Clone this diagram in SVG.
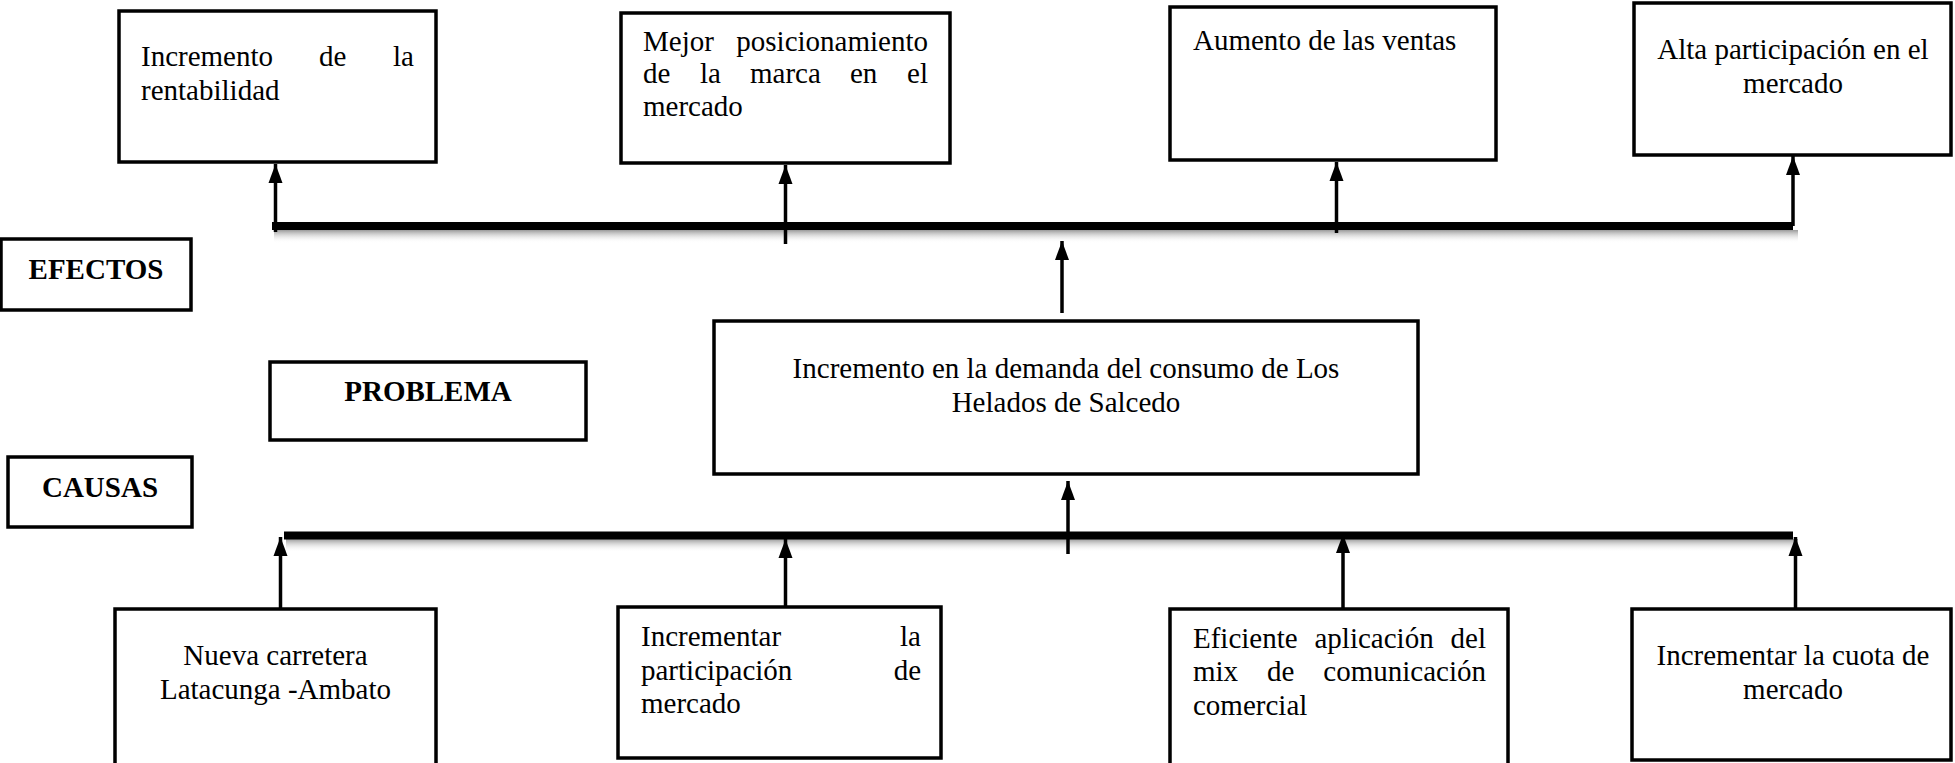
<svg xmlns="http://www.w3.org/2000/svg" width="1955" height="763" viewBox="0 0 1955 763">
<style>
.box{fill:#fff;stroke:#000;stroke-width:3.5}
.t{font-family:"Liberation Serif","Times New Roman",serif;font-size:29px;fill:#000}
.b{font-weight:bold}
.c{text-anchor:middle}
.e{text-anchor:end}
.bar{stroke:#000;stroke-width:8;fill:none}
.sh{fill:url(#shg)}
.ln{stroke:#000;stroke-width:3.5;fill:none;marker-end:url(#up)}
</style>
<defs>
<marker id="up" markerUnits="userSpaceOnUse" markerWidth="16" markerHeight="20" refX="8" refY="0" viewBox="0 0 16 20" orient="0">
<path d="M8,0 L15,19 L1,19 Z" fill="#000"/>
</marker>
<linearGradient id="shg" x1="0" y1="0" x2="0" y2="1">
<stop offset="0" stop-color="#9a9a9a"/>
<stop offset="1" stop-color="#ffffff" stop-opacity="0"/>
</linearGradient>
</defs>

<g id="connectors">
<rect class="sh" x="274" y="230" width="1524" height="13"/>
<line class="bar" x1="272" y1="226" x2="1793" y2="226"/>
<rect class="sh" x="286" y="539" width="1512" height="13"/>
<line class="bar" x1="284" y1="535.5" x2="1793" y2="535.5"/>
<line class="ln" x1="275.5" y1="232" x2="275.5" y2="164"/>
<line class="ln" x1="785.5" y1="244" x2="785.5" y2="165"/>
<line class="ln" x1="1336.5" y1="233" x2="1336.5" y2="162"/>
<line class="ln" x1="1793" y1="226" x2="1793" y2="156"/>
<line class="ln" x1="1062" y1="313" x2="1062" y2="241"/>
<line class="ln" x1="1068" y1="554" x2="1068" y2="481"/>
<line class="ln" x1="280.5" y1="608" x2="280.5" y2="537"/>
<line class="ln" x1="785.5" y1="612" x2="785.5" y2="539"/>
<line class="ln" x1="1343" y1="608" x2="1343" y2="534"/>
<line class="ln" x1="1795.5" y1="608" x2="1795.5" y2="537"/>
</g>

<g id="e1"><rect class="box" x="119" y="11" width="317" height="151"/>
<text class="t" x="141" y="66">Incremento</text>
<text class="t" x="319" y="66">de</text>
<text class="t e" x="414" y="66">la</text>
<text class="t" x="141" y="100">rentabilidad</text></g>

<g id="e2"><rect class="box" x="621" y="13" width="329" height="150"/>
<text class="t" x="643" y="51">Mejor</text>
<text class="t e" x="928" y="51">posicionamiento</text>
<text class="t" x="643" y="83">de</text>
<text class="t" x="700" y="83">la</text>
<text class="t" x="750" y="83">marca</text>
<text class="t" x="850" y="83">en</text>
<text class="t e" x="928" y="83">el</text>
<text class="t" x="643" y="116">mercado</text></g>

<g id="e3"><rect class="box" x="1170" y="7" width="326" height="153"/>
<text class="t" x="1193" y="50">Aumento de las ventas</text></g>

<g id="e4"><rect class="box" x="1634" y="3" width="317" height="152"/>
<text class="t c" x="1793" y="59">Alta participación en el</text>
<text class="t c" x="1793" y="93">mercado</text></g>

<g id="efectos"><rect class="box" x="1" y="239" width="190" height="71"/>
<text class="t b c" x="96" y="279">EFECTOS</text></g>

<g id="problema-label"><rect class="box" x="270" y="362" width="316" height="78"/>
<text class="t b c" x="428" y="401">PROBLEMA</text></g>

<g id="causas"><rect class="box" x="8" y="457" width="184" height="70"/>
<text class="t b c" x="100" y="497">CAUSAS</text></g>

<g id="problema"><rect class="box" x="714" y="321" width="704" height="153"/>
<text class="t c" x="1066" y="378">Incremento en la demanda del consumo de Los</text>
<text class="t c" x="1066" y="412">Helados de Salcedo</text></g>

<g id="c1"><rect class="box" x="115" y="609" width="321" height="160"/>
<text class="t c" x="275.5" y="665">Nueva carretera</text>
<text class="t c" x="275.5" y="699">Latacunga -Ambato</text></g>

<g id="c2"><rect class="box" x="618" y="607" width="323" height="151"/>
<text class="t" x="641" y="646">Incrementar</text>
<text class="t e" x="921" y="646">la</text>
<text class="t" x="641" y="680">participación</text>
<text class="t e" x="921" y="680">de</text>
<text class="t" x="641" y="713">mercado</text></g>

<g id="c3"><rect class="box" x="1170" y="609" width="338" height="160"/>
<text class="t" x="1193" y="648">Eficiente</text>
<text class="t" x="1314.5" y="648">aplicación</text>
<text class="t e" x="1486" y="648">del</text>
<text class="t" x="1193" y="681">mix</text>
<text class="t" x="1267" y="681">de</text>
<text class="t e" x="1486" y="681">comunicación</text>
<text class="t" x="1193" y="715">comercial</text></g>

<g id="c4"><rect class="box" x="1632" y="609" width="319" height="151"/>
<text class="t c" x="1793" y="665">Incrementar la cuota de</text>
<text class="t c" x="1793" y="699">mercado</text></g>
</svg>
